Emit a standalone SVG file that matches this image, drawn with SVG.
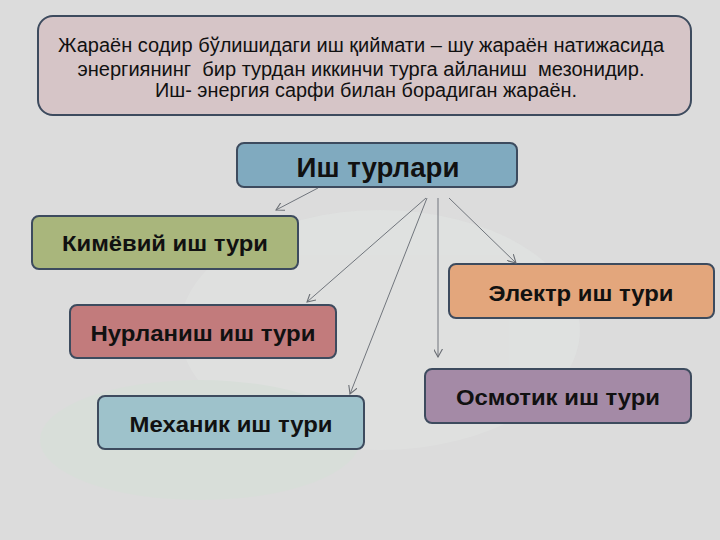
<svg xmlns="http://www.w3.org/2000/svg" width="720" height="540" viewBox="0 0 720 540">
  <defs>
    <marker id="arr" viewBox="0 0 10 10" refX="9" refY="5" markerWidth="9" markerHeight="9" markerUnits="userSpaceOnUse" orient="auto">
      <path d="M0,0 L9,5 L0,10" fill="none" stroke="#6a6e74" stroke-width="1.2"/>
    </marker>
  </defs>
  <style>
    .box { stroke: #3d4b5e; stroke-width: 2; }
    .t { font-family: "Liberation Sans", Arial, sans-serif; fill: #111; text-anchor: middle; }
    .b { font-weight: bold; font-size: 22.5px; }
    .c { fill: none; stroke: #70757c; stroke-width: 1; }
  </style>
  <rect width="720" height="540" fill="#dcdcdc"/>
  <g opacity="0.25">
    <ellipse cx="380" cy="330" rx="200" ry="120" fill="#e9eeea"/>
    <ellipse cx="200" cy="440" rx="160" ry="60" fill="#cfe6d3"/>
  </g>

  <g id="definition">
    <rect class="box" x="38" y="16" width="653" height="99" rx="15" fill="#d6c5c7"/>
    <text class="t" font-size="20" x="361" y="52" textLength="606" lengthAdjust="spacingAndGlyphs">Жараён содир бўлишидаги иш қиймати – шу жараён натижасида</text>
    <text class="t" font-size="20" x="361" y="76" textLength="567" lengthAdjust="spacingAndGlyphs" xml:space="preserve">энергиянинг  бир турдан иккинчи турга айланиш  мезонидир.</text>
    <text class="t" font-size="20" x="366" y="97" textLength="422" lengthAdjust="spacingAndGlyphs">Иш- энергия сарфи билан борадиган жараён.</text>
  </g>

  <g id="ish-turlari">
    <rect class="box" x="237" y="143" width="280" height="44" rx="7" fill="#80aabf"/>
    <text class="t" font-weight="bold" font-size="27" x="378" y="177" textLength="163" lengthAdjust="spacingAndGlyphs">Иш турлари</text>
  </g>

  <g id="kimyoviy">
    <rect class="box" x="32" y="216" width="266" height="53" rx="7" fill="#a9b67c"/>
    <text class="t b" x="165" y="251" textLength="206" lengthAdjust="spacingAndGlyphs">Кимёвий иш тури</text>
  </g>

  <g id="nurlanish">
    <rect class="box" x="70" y="305" width="266" height="53" rx="7" fill="#c27b7c"/>
    <text class="t b" x="203" y="341" textLength="225" lengthAdjust="spacingAndGlyphs">Нурланиш иш тури</text>
  </g>

  <g id="mexanik">
    <rect class="box" x="98" y="396" width="266" height="53" rx="7" fill="#9ec2cb"/>
    <text class="t b" x="231" y="432" textLength="203" lengthAdjust="spacingAndGlyphs">Механик иш тури</text>
  </g>

  <g id="elektr">
    <rect class="box" x="449" y="264" width="265" height="54" rx="7" fill="#e3a67c"/>
    <text class="t b" x="581" y="301" textLength="185" lengthAdjust="spacingAndGlyphs">Электр иш тури</text>
  </g>

  <g id="osmotik">
    <rect class="box" x="425" y="369" width="266" height="54" rx="7" fill="#a48aa6"/>
    <text class="t b" x="558" y="405" textLength="204" lengthAdjust="spacingAndGlyphs">Осмотик иш тури</text>
  </g>

  <g id="connectors">
    <line class="c" x1="318" y1="188" x2="276" y2="210" marker-end="url(#arr)"/>
    <line class="c" x1="426" y1="198" x2="307" y2="302" marker-end="url(#arr)"/>
    <line class="c" x1="427" y1="198" x2="350" y2="394" marker-end="url(#arr)"/>
    <line class="c" x1="438" y1="198" x2="438" y2="357" marker-end="url(#arr)"/>
    <line class="c" x1="449" y1="198" x2="516" y2="263" marker-end="url(#arr)"/>
  </g>
</svg>
